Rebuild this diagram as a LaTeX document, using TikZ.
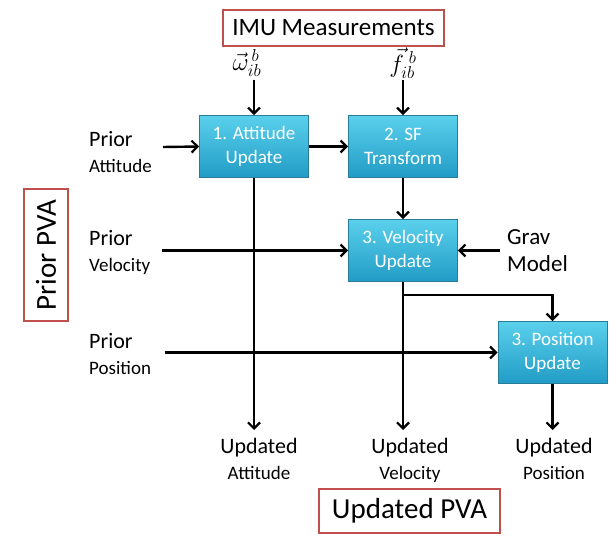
\documentclass[tikz,border=0pt]{standalone}
\usepackage{fontspec}
\setmainfont{Carlito}
\usetikzlibrary{arrows.meta}
\definecolor{redb}{RGB}{192,80,77}
\definecolor{boxtop}{RGB}{90,208,236}
\definecolor{boxbot}{RGB}{34,156,198}
\definecolor{boxedge}{RGB}{40,125,155}
\tikzset{
  redbox/.style={draw=redb,line width=2pt,fill=white,inner sep=0pt},
  procbox/.style={draw=boxedge,line width=0.8pt,top color=boxtop,bottom color=boxbot,
     minimum width=109pt,minimum height=62pt,inner sep=0pt,align=center,text=white,
     font=\fontsize{19}{24}\selectfont},
  lbl/.style={align=left,inner sep=0pt,anchor=west,font=\fontsize{22}{26}\selectfont},
  ulbl/.style={align=center,inner sep=0pt,anchor=north,font=\fontsize{22}{26}\selectfont},
  mlbl/.style={inner sep=0pt,font=\fontsize{26}{30}\selectfont},
  arr/.style={line width=2.4pt,-{Straight Barb[length=6pt,width=12pt,line width=2.2pt]}},
}
\newcommand{\lblsmall}[1]{{\fontsize{19}{24}\selectfont #1}}
\begin{document}
\begin{tikzpicture}[x=1pt,y=-1pt]
\useasboundingbox (0,0) rectangle (610,537);
% red boxes
\node[redbox,minimum width=221pt,minimum height=36pt,font=\fontsize{25}{30}\selectfont] (imu) at (333.5,28) {IMU Measurements};
\node[redbox,minimum width=181pt,minimum height=44pt,font=\fontsize{29}{34}\selectfont] (upva) at (409.5,511) {Updated PVA};
\node[redbox,minimum width=132pt,minimum height=44pt,rotate=90,font=\fontsize{29}{34}\selectfont] (ppva) at (46,255) {Prior PVA};
% process boxes
\node[procbox] (att) at (254,146.5) {1. Attitude\\Update};
\node[procbox] (sf) at (403,146.5) {2. SF\\Transform};
\node[procbox] (vel) at (403,250.5) {3. Velocity\\Update};
\node[procbox] (pos) at (552.5,352.5) {3. Position\\Update};
% inputs
\node[mlbl] (om) at (247,63) {$\vec{\omega}_{ib}^{\,b}$};
\node[mlbl] (ff) at (403,63) {$\vec{f}_{ib}^{\;b}$};
\node[lbl] (pa) at (89,152) {Prior\\\lblsmall{Attitude}};
\node[lbl] (pv) at (89,252) {Prior\\\lblsmall{Velocity}};
\node[lbl] (pp) at (89,354) {Prior\\\lblsmall{Position}};
\node[lbl,font=\fontsize{23}{27}\selectfont] (grav) at (507,251) {Grav\\Model};
% outputs
\node[ulbl] (ua) at (259,438) {Updated\\\lblsmall{Attitude}};
\node[ulbl] (uv) at (410,438) {Updated\\\lblsmall{Velocity}};
\node[ulbl] (up) at (554,438) {Updated\\\lblsmall{Position}};
% helper coordinates
\coordinate (paS) at (163,147);
\coordinate (pvS) at (162,250.5);
\coordinate (ppS) at (165,352.5);
\coordinate (gS) at (500,250.5);
\coordinate (br) at (403,295);
\coordinate (omS) at (254,80);
\coordinate (ffS) at (403,80);
% connectors
\draw[arr] (omS) -- (att.north);
\draw[arr] (ffS) -- (sf.north);
\draw[arr] (paS) -- (att.west);
\draw[arr] (att.east) -- (sf.west);
\draw[arr] (sf.south) -- (vel.north);
\draw[arr] (pvS) -- (vel.west);
\draw[arr] (gS) -- (vel.east);
\draw[arr] (ppS) -- (pos.west);
\draw[arr] (att.south) -- ([yshift=8pt]att.south |- ua.north);
\draw[arr] (vel.south) -- ([yshift=8pt]vel.south |- uv.north);
\draw[arr] (br) -| (pos.north);
\draw[arr] (pos.south) -- ([yshift=8pt]pos.south |- up.north);
\end{tikzpicture}
\end{document}
